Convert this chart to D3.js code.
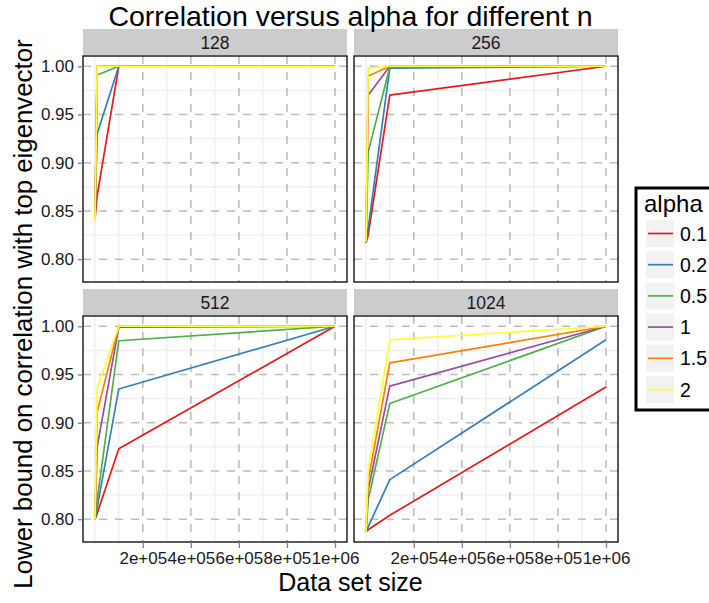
<!DOCTYPE html>
<html>
<head>
<meta charset="utf-8">
<script src="https://cdnjs.cloudflare.com/ajax/libs/d3/7.8.5/d3.min.js"></script>
<style>
  body { margin: 0; background: #fff; }
  svg { display: block; font-family: "Liberation Sans", Arial, sans-serif; }
</style>
</head>
<body>
<div id="chart"></div>
<script>
// data set sizes (x) shared by every panel
const dataSizes = [1000, 10000, 100000, 1000000];
const alphaLevels = ["0.1", "0.2", "0.5", "1", "1.5", "2"];
const alphaColors = ["#E41A1C", "#377EB8", "#4DAF4A", "#984EA3", "#FF7F00", "#FFFF33"];
const panelNames = ["128", "256", "512", "1024"];

// one row per alpha level, one value per data set size
const corr128 = [
  [0.842, 0.866, 1.000, 1.000],
  [0.841, 0.930, 1.000, 1.000],
  [0.841, 0.991, 1.000, 1.000],
  [0.841, 1.000, 1.000, 1.000],
  [0.841, 1.000, 1.000, 1.000],
  [0.840, 1.000, 1.000, 1.000]
];
const corr256 = [
  [0.817, 0.825, 0.970, 1.000],
  [0.817, 0.832, 0.998, 1.000],
  [0.818, 0.911, 0.999, 1.000],
  [0.818, 0.970, 1.000, 1.000],
  [0.818, 0.990, 1.000, 1.000],
  [0.818, 0.998, 1.000, 1.000]
];
const corr512 = [
  [0.800, 0.806, 0.873, 1.000],
  [0.800, 0.812, 0.935, 1.000],
  [0.800, 0.820, 0.985, 1.000],
  [0.800, 0.875, 0.999, 1.000],
  [0.800, 0.911, 1.000, 1.000],
  [0.800, 0.936, 1.000, 1.000]
];
const corr1024 = [
  [0.787, 0.789, 0.804, 0.937],
  [0.787, 0.792, 0.841, 0.986],
  [0.787, 0.820, 0.920, 1.000],
  [0.787, 0.830, 0.938, 1.000],
  [0.787, 0.840, 0.962, 1.000],
  [0.787, 0.851, 0.986, 1.000]
];
const panelData = [corr128, corr256, corr512, corr1024];

const xTicks = [200000, 400000, 600000, 800000, 1000000];
const xTickLabels = ["2e+05", "4e+05", "6e+05", "8e+05", "1e+06"];
const xMinor = [0, 100000, 300000, 500000, 700000, 900000];
const yTicks = [0.80, 0.85, 0.90, 0.95, 1.00];
const yMinor = [0.825, 0.875, 0.925, 0.975];

const W = 709, H = 603;
const leftX = 83, topY = 29;
const panelW = 264, panelH = 226, stripH = 27, gap = 7;

const svg = d3.select("#chart").append("svg")
  .attr("width", W).attr("height", H);

//Scales with 5% padding like ggplot
const xExt = d3.extent(dataSizes);
const xPad = (xExt[1] - xExt[0]) * 0.05;
const x = d3.scaleLinear().domain([xExt[0] - xPad, xExt[1] + xPad]).range([0, panelW]);

const allVals = panelData.flat(2);
const yExt = d3.extent(allVals);
const yPad = (yExt[1] - yExt[0]) * 0.05;
const y = d3.scaleLinear().domain([yExt[0] - yPad, yExt[1] + yPad]).range([panelH, 0]);

const line = d3.line().x((d, i) => x(dataSizes[i])).y(d => y(d));

panelNames.forEach((name, p) => {
  const col = p % 2, row = Math.floor(p / 2);
  const px = leftX + col * (panelW + gap);
  const sy = topY + row * (stripH + panelH + gap);
  const py = sy + stripH;

  //Strip
  const strip = svg.append("g").attr("transform", "translate(" + px + "," + sy + ")");
  strip.append("rect").attr("width", panelW).attr("height", stripH - 1).attr("fill", "#cccccc");
  strip.append("text").attr("x", panelW / 2).attr("y", stripH / 2 + 6)
    .attr("text-anchor", "middle").attr("font-size", 17.5).attr("fill", "#1a1a1a").text(name);

  const g = svg.append("g").attr("transform", "translate(" + px + "," + py + ")");
  g.append("rect").attr("width", panelW).attr("height", panelH).attr("fill", "#fff");

  //Minor grid
  g.selectAll(".xminor").data(xMinor).enter().append("line")
    .attr("x1", d => x(d)).attr("x2", d => x(d)).attr("y1", 0).attr("y2", panelH)
    .attr("stroke", "#f0f0f0").attr("stroke-width", 1.5);
  g.selectAll(".yminor").data(yMinor).enter().append("line")
    .attr("y1", d => y(d)).attr("y2", d => y(d)).attr("x1", 0).attr("x2", panelW)
    .attr("stroke", "#f0f0f0").attr("stroke-width", 1.5);

  //Major grid (dashed)
  g.selectAll(".xmajor").data(xTicks).enter().append("line")
    .attr("x1", d => x(d)).attr("x2", d => x(d)).attr("y1", 0).attr("y2", panelH)
    .attr("stroke", "#bdbdbd").attr("stroke-width", 1.6).attr("stroke-dasharray", "8,8");
  g.selectAll(".ymajor").data(yTicks).enter().append("line")
    .attr("y1", d => y(d)).attr("y2", d => y(d)).attr("x1", 0).attr("x2", panelW)
    .attr("stroke", "#bdbdbd").attr("stroke-width", 1.6).attr("stroke-dasharray", "8,8");

  //Lines
  panelData[p].forEach((series, k) => {
    g.append("path").datum(series).attr("d", line)
      .attr("fill", "none").attr("stroke", alphaColors[k])
      .attr("stroke-width", 1.7).attr("stroke-linejoin", "round");
  });

  g.append("rect").attr("width", panelW).attr("height", panelH)
    .attr("fill", "none").attr("stroke", "#000").attr("stroke-width", 1.3);

  //Axes
  if (col === 0) {
    const yAxis = d3.axisLeft(y).tickValues(yTicks).tickFormat(d3.format(".2f")).tickSize(5).tickPadding(4);
    const ya = g.append("g").call(yAxis);
    ya.select(".domain").remove();
    ya.selectAll("line").attr("stroke", "#7f7f7f").attr("stroke-width", 1.3);
    ya.selectAll("text").attr("font-size", 17).attr("fill", "#1a1a1a")
      .attr("font-family", "Liberation Sans, Arial, sans-serif");
  }
  if (row === 1) {
    const xAxis = d3.axisBottom(x).tickValues(xTicks).tickFormat((d, i) => xTickLabels[i]).tickSize(6).tickPadding(4);
    const xa = g.append("g").attr("transform", "translate(0," + panelH + ")").call(xAxis);
    xa.select(".domain").remove();
    xa.selectAll("line").attr("stroke", "#7f7f7f").attr("stroke-width", 1.3);
    xa.selectAll("text").attr("font-size", 17).attr("fill", "#1a1a1a")
      .attr("font-family", "Liberation Sans, Arial, sans-serif");
  }
});

const plotMid = leftX + panelW + gap / 2;

//Titles
svg.append("text").attr("x", plotMid).attr("y", 26).attr("text-anchor", "middle")
  .attr("font-size", 28.5).attr("fill", "#000").text("Correlation versus alpha for different n");
svg.append("text").attr("x", plotMid).attr("y", 591).attr("text-anchor", "middle")
  .attr("font-size", 25).attr("fill", "#000").text("Data set size");
svg.append("text").attr("transform", "translate(32,314) rotate(-90)").attr("text-anchor", "middle")
  .attr("font-size", 25.8).attr("fill", "#000").text("Lower bound on correlation with top eigenvector");

//Legend
const lg = svg.append("g").attr("transform", "translate(636,188)");
lg.append("rect").attr("width", 80).attr("height", 222)
  .attr("fill", "#fff").attr("stroke", "#000").attr("stroke-width", 3);
lg.append("text").attr("x", 8).attr("y", 24).attr("font-size", 24).attr("fill", "#000").text("alpha");
alphaLevels.forEach((a, k) => {
  const ky = 32 + k * 31.2;
  lg.append("rect").attr("x", 10).attr("y", ky).attr("width", 28).attr("height", 27).attr("fill", "#f2f2f2");
  lg.append("line").attr("x1", 12).attr("x2", 37).attr("y1", ky + 13.5).attr("y2", ky + 13.5)
    .attr("stroke", alphaColors[k]).attr("stroke-width", 1.7);
  lg.append("text").attr("x", 44).attr("y", ky + 13.5 + 7).attr("font-size", 19.5).attr("fill", "#000").text(a);
});
</script>
</body>
</html>
